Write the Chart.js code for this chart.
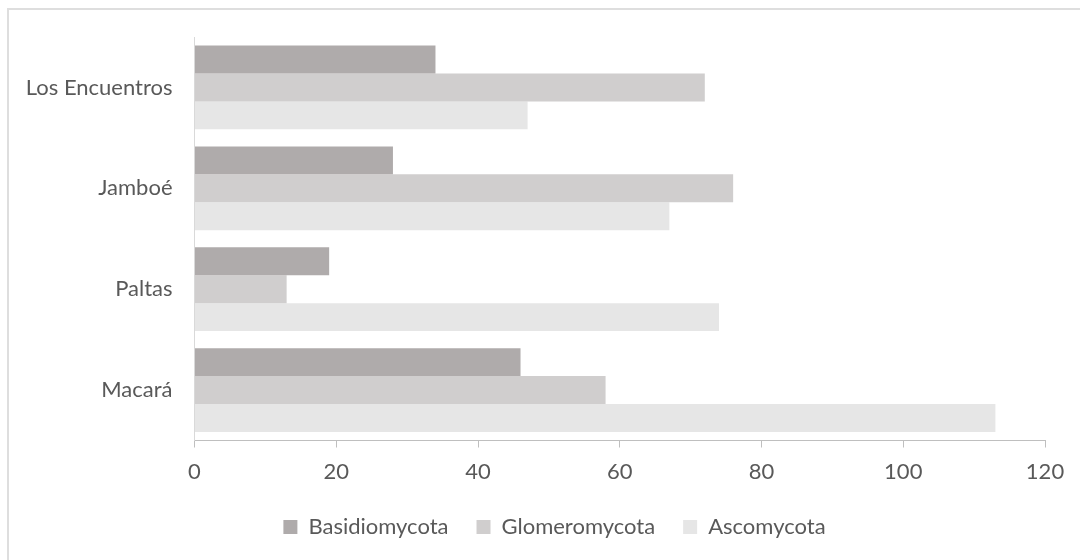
<!DOCTYPE html>
<html>
<head>
<meta charset="utf-8">
<script src="https://cdn.jsdelivr.net/npm/chart.js@4"></script>
<style>
  html, body { margin: 0; padding: 0; background: #fff; }
  #wrap { position: relative; width: 1080px; height: 560px; overflow: hidden; }
  #frame { position: absolute; left: 7px; top: 8px; width: 1100px; height: 600px;
           border-top: 2px solid #dedede; border-left: 2px solid #dedede; box-sizing: border-box; }
  #grafico { position: absolute; left: 0; top: 0; }
</style>
</head>
<body>
<div id="wrap">
  <div id="frame"></div>
  <canvas id="grafico" width="1080" height="560"></canvas>
</div>
<script>
const localidades = ['Los Encuentros', 'Jamboé', 'Paltas', 'Macará'];
const basidiomycota = [34, 28, 19, 46];
const glomeromycota = [72, 76, 13, 58];
const ascomycota = [47, 67, 74, 113];
const ticksX = [0, 20, 40, 60, 80, 100, 120];

const fuente = { family: 'Lato, "Open Sans", sans-serif', size: 22 };
const gris = '#595959';

// centra la leyenda bajo el eje de valores en vez de bajo todo el lienzo
const moverLeyenda = {
  id: 'moverLeyenda',
  afterLayout(chart) {
    chart.legend.left = 64;
    chart.legend.right = chart.chartArea.right;
  }
};

const ctx = document.getElementById('grafico').getContext('2d');
new Chart(ctx, {
  type: 'bar',
  data: {
    labels: localidades,
    datasets: [
      { label: 'Basidiomycota', data: basidiomycota, backgroundColor: '#afabab' },
      { label: 'Glomeromycota', data: glomeromycota, backgroundColor: '#d0cece' },
      { label: 'Ascomycota', data: ascomycota, backgroundColor: '#e6e6e6' }
    ]
  },
  options: {
    indexAxis: 'y',
    responsive: false,
    animation: false,
    categoryPercentage: 0.83,
    barPercentage: 1.0,
    layout: { padding: { top: 37, right: 35, bottom: 12, left: 0 } },
    scales: {
      x: {
        min: ticksX[0],
        max: ticksX[ticksX.length - 1],
        afterBuildTicks: (scale) => { scale.ticks = ticksX.map(v => ({ value: v })); },
        afterFit: (scale) => { scale.height = 47.5; },
        border: { color: '#bfbfbf', width: 1 },
        grid: { drawOnChartArea: false, drawTicks: true, tickLength: 7, color: '#bfbfbf' },
        ticks: { color: gris, font: fuente, padding: 11, maxRotation: 0 }
      },
      y: {
        afterFit: (scale) => { scale.width = 194.5; },
        border: { color: '#d9d9d9', width: 1 },
        grid: { display: false, drawTicks: false },
        ticks: { color: gris, font: fuente, padding: 22 }
      }
    },
    plugins: {
      legend: {
        position: 'bottom',
        labels: { color: gris, font: fuente, boxWidth: 14, boxHeight: 14, padding: 28 }
      },
      tooltip: { enabled: false }
    }
  },
  plugins: [moverLeyenda]
});
</script>
</body>
</html>
